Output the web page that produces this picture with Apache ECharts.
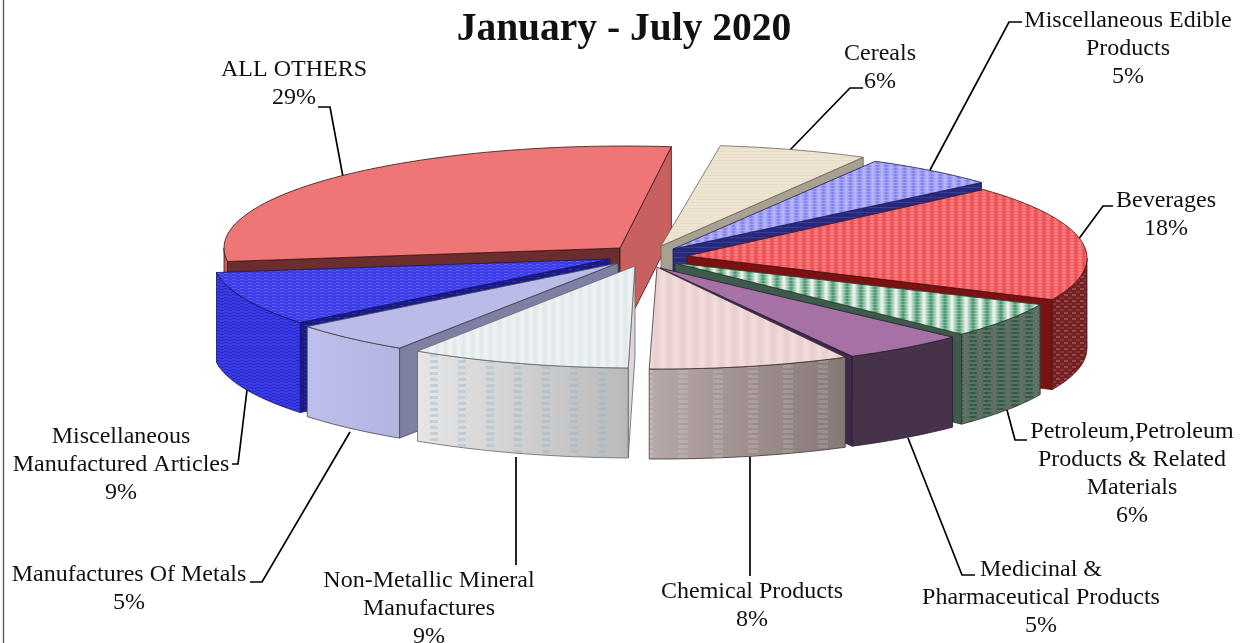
<!DOCTYPE html>
<html><head><meta charset="utf-8">
<style>html,body{margin:0;padding:0;background:#fff}#c{width:1244px;height:643px}</style>
<script src="https://cdn.jsdelivr.net/npm/echarts@6/dist/echarts.min.js"></script>
</head><body><div id="c"></div>
<script>
// ---- data ----
const categories = ['Cereals','Miscellaneous Edible\nProducts','Beverages','Petroleum,Petroleum\nProducts & Related\nMaterials','Medicinal &\nPharmaceutical Products','Chemical Products','Non-Metallic Mineral\nManufactures','Manufactures Of Metals','Miscellaneous\nManufactured Articles','ALL OTHERS'];
const values = [6.0,5.4,18.4,5.6,5.0,8.1,8.9,5.0,8.6,29.0];
const title = 'January - July 2020';

// ---- layout ----
const START_DEG = 6.8, CX = 648, CY = 258, RX = 400, RY = 102, DEPTH = 90;
const drawOrder = [9,0,1,2,3,4,5,8,7,6];
const explode = [[25,-11],[37,-7],[39,0],[27,5],[18,8],[11,9],[-10,8],[-28,5],[-35,1],[-24,-10]];
const tipShift = [[-12,-1],[-12,-2],[0,-2],[0,0],[-6,2],[-2,0],[-3,0],[-2,0],[-3,0],[-4,0]];
const labelPos = [[880,54],[1128,21],[1166,201],[1132,432],[1041,570],[752,592],[429,581],[129,575],[121,437],[294,70]];
const leaders = [
 [[863,88],[850,88],[790,150]],
 [[1022,22],[1009,22],[930,170]],
 [[1113,206],[1103,206],[1078,240]],
 [[1027,440],[1015,440],[1007,410]],
 [[975,575],[962,575],[908,438]],
 [[750,576],[750,455]],
 [[516,565],[516,457]],
 [[250,582],[262,582],[350,432]],
 [[232,464],[238,464],[247,390]],
 [[318,107],[330,107],[343,177]]
];
const LINE_H = 27.8, FONT = '"Liberation Serif", serif', LABEL_SIZE = 24;

// ---- textures ----
function pat(w,h,bg,fn){
  const c=document.createElement('canvas');c.width=w;c.height=h;
  const g=c.getContext('2d');
  if(bg){g.fillStyle=bg;g.fillRect(0,0,w,h);}
  fn(g);
  return {image:c,repeat:'repeat'};
}
function rect(g,col,x,y,w,h){g.fillStyle=col;g.fillRect(x,y,w,h);}
function softStripes(g,w,h,a,b){
  const lg=g.createLinearGradient(0,0,w,0);
  lg.addColorStop(0,a);lg.addColorStop(0.5,b);lg.addColorStop(1,a);
  g.fillStyle=lg;g.fillRect(0,0,w,h);
}
const grad=(a,b)=>new echarts.graphic.LinearGradient(0,0,1,0,[{offset:0,color:a},{offset:1,color:b}]);

const tops = [
 pat(4,3,'#EEE4D2',g=>rect(g,'#E8DDC8',0,1,4,1)),
 pat(9,3,'#B4B4F5',g=>{softStripes(g,9,3,'#B8B8F6','#7E7EF0');rect(g,'rgba(190,190,250,0.5)',0,2,9,1);}),
 pat(8,3,'#EE4A4E',g=>{softStripes(g,8,3,'#F8898A','#EE4A4E');rect(g,'rgba(240,70,75,0.45)',0,1,8,1);}),
 pat(14,3,'#EEF4F0',g=>{softStripes(g,14,3,'#F2F6F3','#3F9467');rect(g,'rgba(255,255,255,0.22)',0,1,14,1);}),
 '#A672A6',
 pat(13,4,'#F1DBDB',g=>softStripes(g,13,4,'#F2DDDD','#EACDCD')),
 pat(9,4,'#EFF2F2',g=>softStripes(g,9,4,'#F0F3F3','#DFE8EC')),
 '#B9BBE9',
 pat(8,3,'#3C3CE8',g=>{rect(g,'#5C5CF0',0,0,4,1);rect(g,'#4A4AEC',4,1,4,1);}),
 '#EE7676'
];
const sides = [
 '#A8A090',
 '#27297C',
 pat(8,6,'#6E2222',g=>{rect(g,'#A04444',0,0,4,2);rect(g,'#8C3434',4,3,4,2);}),
 pat(14,8,'#626E66',g=>{softStripes(g,14,2,'#6A746D','#1F5A3C');g.translate(3,4);g.fillStyle='#2A6244';g.fillRect(0,0,8,2);}),
 '#46334A',
 grad('#B8A9A9','#867876'),
 grad('#E6E6E6','#B9B9B9'),
 grad('#BDBFEC','#B2B4E2'),
 pat(8,6,'#3A3AE6',g=>{rect(g,'#2A2AC8',0,0,4,1);rect(g,'#2A2AC8',4,1,4,1);rect(g,'#2A2AC8',0,3,4,1);rect(g,'#2A2AC8',4,4,4,1);}),
 '#C96060'
];
const sideOverlay = [
 null,null,null,null,null,
 pat(35,5,null,g=>rect(g,'rgba(255,255,255,0.14)',13,0,10,3)),
 pat(28,6,null,g=>rect(g,'rgba(135,175,205,0.32)',10,0,8,3)),
 null,null,null
];
const misCut = pat(8,4,'#1A1A84',g=>rect(g,'#2E2EB0',0,1,4,1));
const cutsStart = ['#A8A090','#27297C','#7A1212','#3E5A4A','#3E2A48','#8E7E7C','#D9D9D9','#7D7FA3',misCut,'#6B2D2D'];
const cutsEnd   = ['#A8A090',pat(6,5,'#27297C',g=>rect(g,'#3A3C98',0,2,6,1)),'#7A1212','#3E5A4A','#3E2A48','#8E7E7C','#D9D9D9','#7D7FA3',misCut,'#C96060'];
const edge = ['#6B6558','#1c1c50','#4a1010','#2a3a30','#2a1d30','#3d3333','#666','#444','#141460','#3a1414'];

// ---- geometry from the values ----
const total = values.reduce((a,b)=>a+b,0);
let acc = START_DEG;
const spans = values.map(v=>{const a=acc;acc+=v/total*360;return [a,acc];});
const rad = d=>d*Math.PI/180;

function arcPts(cx,cy,a,b){
  const n=Math.max(2,Math.ceil((b-a)/2)),p=[];
  for(let i=0;i<=n;i++){const t=rad(a+(b-a)*i/n);p.push([cx+RX*Math.sin(t),cy-RY*Math.cos(t)]);}
  return p;
}
const down=p=>[p[0],p[1]+DEPTH];
const poly=(points,fill,stroke,z2,lw)=>({type:'polygon',z2,silent:true,shape:{points},style:{fill,stroke:stroke||null,lineWidth:lw==null?0.8:lw}});

function renderItem(params){
  const i=params.dataIndex;
  const rank=drawOrder.indexOf(i)+1;
  const [t1,t2]=spans[i];
  const cx=CX+explode[i][0],cy=CY+explode[i][1];
  const tip=[cx+tipShift[i][0],cy+tipShift[i][1]];
  const arc=arcPts(cx,cy,t1,t2);
  const first=arc[0],last=arc[arc.length-1];
  const ch=[];
  if(Math.sin(rad(t1))<0) ch.push(poly([tip,first,down(first),down(tip)],cutsStart[i],edge[i],rank*10+1));
  if(Math.sin(rad(t2))>0) ch.push(poly([tip,last,down(last),down(tip)],cutsEnd[i],edge[i],rank*10+1));
  const sa=Math.max(t1,90),sb=Math.min(t2,270);
  if(sb>sa){
    const front=arcPts(cx,cy,sa,sb);
    const pts=front.concat(front.slice().reverse().map(down));
    ch.push(poly(pts,sides[i],edge[i],rank*10+2));
    if(sideOverlay[i]) ch.push(poly(pts,sideOverlay[i],null,rank*10+3,0));
  }
  ch.push(poly([tip].concat(arc),tops[i],edge[i],rank*10+4));
  // leader line
  ch.push({type:'polyline',z2:1,silent:true,shape:{points:leaders[i]},style:{fill:null,stroke:'#000',lineWidth:1.7}});
  // label
  const lines=categories[i].split('\n').concat([Math.round(values[i])+'%']);
  lines.forEach((s,k)=>ch.push({type:'text',z2:500,silent:true,
    style:{x:labelPos[i][0],y:labelPos[i][1]+k*LINE_H,text:s,fill:'#111',font:LABEL_SIZE+'px '+FONT,align:'center',verticalAlign:'middle'}}));
  return {type:'group',children:ch};
}

const chart=echarts.init(document.getElementById('c'),null,{renderer:'canvas'});
chart.setOption({
  animation:false,backgroundColor:'#fff',
  title:{text:title,left:619,top:5,textAlign:'center',textStyle:{fontFamily:FONT,fontWeight:'bold',fontSize:39.5,color:'#111'}},
  graphic:[{type:'line',shape:{x1:3.5,y1:0,x2:3.5,y2:643},style:{stroke:'#555',lineWidth:1.3},silent:true}],
  series:[{type:'custom',coordinateSystem:'none',silent:true,renderItem,data:values,clip:false}]
});
</script></body></html>
